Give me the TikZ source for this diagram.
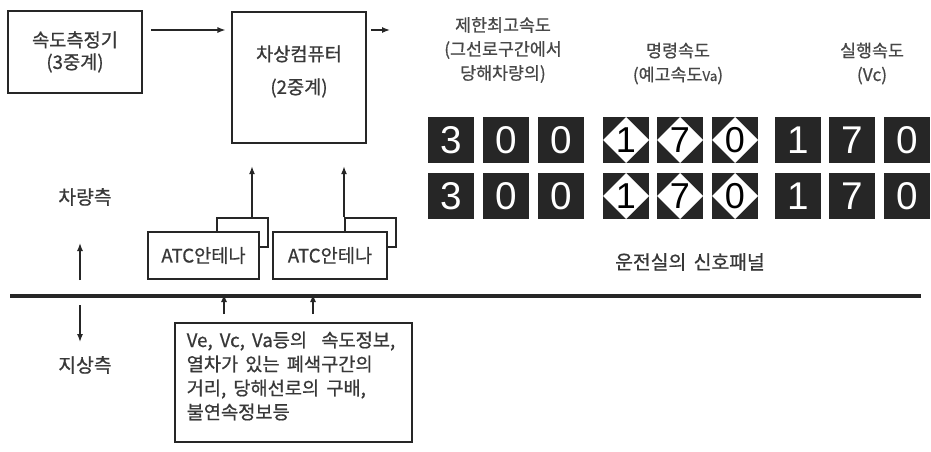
\documentclass[tikz,border=0pt]{standalone}
\usepackage{fontspec}
\setmainfont[WordSpace=1.7, FakeBold=0.7]{Noto Sans CJK KR}
\newfontfamily\digfont{Liberation Sans}
\usetikzlibrary{arrows.meta}
\tikzset{
  box/.style={draw=black!85, line width=1.8pt, inner sep=0pt},
  sbox/.style={draw=black!85, line width=1.2pt, inner sep=0pt},
  arr/.style={-{Latex[length=6pt,width=4.5pt]}, line width=1pt, draw=black!85},
  txt/.style={text=black!78, font=\fontsize{14}{16.5}\selectfont},
  hdr/.style={text=black!72, font=\fontsize{13}{18}\selectfont, align=center},
  dig/.style={fill=black!85, minimum size=46*0.75pt, inner sep=0pt, text=white,
    font=\digfont\fontsize{29}{29}\selectfont},
  ddig/.style={dig, text=black, font=\digfont\fontsize{27}{27}\selectfont, path picture={
    \fill[white] (path picture bounding box.north) -- (path picture bounding box.east)
      -- (path picture bounding box.south) -- (path picture bounding box.west) -- cycle;}},
}
\begin{document}
\begin{tikzpicture}[x=0.75pt,y=-0.75pt]
\useasboundingbox[fill=white] (0,0) rectangle (931,451);
% top boxes
\node[box, minimum width=134*0.75pt, minimum height=82*0.75pt, txt, align=center] (spd) at (75,52) {속도측정기\\(3중계)};
\node[box, minimum width=134*0.75pt, minimum height=131*0.75pt] (cmp) at (299,77.5) {};
\node[txt, align=center, font=\fontsize{14}{24.75}\selectfont] (cmpt) at (299,71.5) {차상컴퓨터\\(2중계)};
\draw[arr] ([xshift=6pt]spd.east |- 0,30) -- ([xshift=-4pt]cmp.west |- 0,30);
\coordinate (out) at (390,30);
\draw[arr] ([xshift=3pt]cmp.east |- 0,30) -- (out);
% headers
\node[hdr] (h1) at (503,50) {제한최고속도\\(그선로구간에서\\당해차량의)};
\node[hdr] (h2) at (678,63.5) {명령속도\\(예고속도{\fontsize{10}{10}\selectfont Va})};
\node[hdr] (h3) at (872,63.5) {실행속도\\(Vc)};
% digits row 1
\node[dig]  (a1) at (451,140) {3};
\node[dig]  (a2) at (506,140) {0};
\node[dig]  (a3) at (561,140) {0};
\node[ddig] (a4) at (626,140) {1};
\node[ddig] (a5) at (680,140) {7};
\node[ddig] (a6) at (735,140) {0};
\node[dig]  (a7) at (798,140) {1};
\node[dig]  (a8) at (852,140) {7};
\node[dig]  (a9) at (907,140) {0};
% digits row 2
\node[dig]  (b1) at (451,196) {3};
\node[dig]  (b2) at (506,196) {0};
\node[dig]  (b3) at (561,196) {0};
\node[ddig] (b4) at (626,196) {1};
\node[ddig] (b5) at (680,196) {7};
\node[ddig] (b6) at (735,196) {0};
\node[dig]  (b7) at (798,196) {1};
\node[dig]  (b8) at (852,196) {7};
\node[dig]  (b9) at (907,196) {0};
\node[txt, font=\fontsize{14.5}{16}\selectfont] (panel) at (690,262) {운전실의 신호패널};
% antennas
\node[sbox, minimum width=51*0.75pt, minimum height=29*0.75pt] (tabA) at (242.5,232.5) {};
\node[sbox, fill=white, minimum width=111*0.75pt, minimum height=47*0.75pt, txt] (antA) at (203.5,255.5) {ATC안테나};
\node[sbox, minimum width=51*0.75pt, minimum height=29*0.75pt] (tabB) at (370.5,232.5) {};
\node[sbox, fill=white, minimum width=114*0.75pt, minimum height=47*0.75pt, txt] (antB) at (330,255.5) {ATC안테나};
\draw[arr] (tabA.north -| 252,0) -- ([yshift=-16.5pt]cmp.south -| 252,0);
\draw[arr] (tabB.north -| 344,0) -- ([yshift=-16.5pt]cmp.south -| 344,0);
% ground line
\coordinate (gl) at (10,296);
\coordinate (gr) at (921,296);
\draw[line width=2.6pt, black!85] (gl) -- (gr);
% side labels
\node[txt, font=\fontsize{14.5}{16}\selectfont] (veh) at (85,197) {차량측};
\node[txt, font=\fontsize{14.5}{16}\selectfont] (gnd) at (85,365) {지상측};
\coordinate (vu1) at (80,280);
\coordinate (vu2) at (80,243);
\coordinate (vd1) at (80,305);
\coordinate (vd2) at (80,342);
\draw[arr] (vu1) -- (vu2);
\draw[arr] (vd1) -- (vd2);
% info box
\node[sbox, minimum width=237*0.75pt, minimum height=119*0.75pt] (info) at (293.5,382.5) {};
\node[txt, anchor=west, align=left, font=\fontsize{14}{18}\selectfont] (infot) at (182,376) {Ve, Vc, Va등의\ \ 속도정보,\\열차가 있는 폐색구간의\\거리, 당해선로의 구배,\\불연속정보등};
\draw[arr] ([yshift=6pt]info.north -| 224,0) -- ([yshift=1.5pt]gl -| 224,0);
\draw[arr] ([yshift=6pt]info.north -| 313,0) -- ([yshift=1.5pt]gl -| 313,0);
\end{tikzpicture}
\end{document}
